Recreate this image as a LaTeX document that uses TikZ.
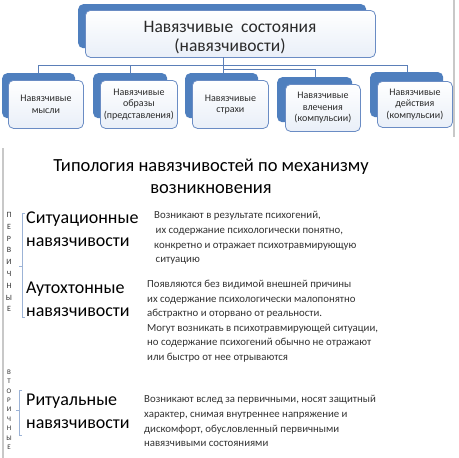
\documentclass[tikz,border=0pt]{standalone}
\usepackage{fontspec}
\setmainfont{Carlito}
\definecolor{bk}{HTML}{4F7FBE}
\definecolor{fr}{HTML}{6A8CC4}
\definecolor{frfill}{HTML}{E9EFF8}
\definecolor{ln}{HTML}{5B7FB8}
\definecolor{txt}{HTML}{2A2A2A}
\definecolor{dtxt}{HTML}{333333}
\definecolor{brk}{HTML}{9CB3D6}
\definecolor{edge}{HTML}{C8C8C8}
\tikzset{
  back/.style={fill=bk, rounded corners=5pt, inner sep=0pt, anchor=north west},
  front/.style={draw=fr, line width=0.8pt, top color=white, bottom color=frfill, rounded corners=5pt,
    inner sep=0pt, anchor=north west, align=center, text=txt},
  small/.style={font=\fontsize{10}{11.5}\selectfont},
  conn/.style={draw=ln, line width=0.9pt},
  head/.style={anchor=west, align=left, text=black, font=\fontsize{18}{23}\selectfont, inner sep=0pt},
  desc/.style={anchor=north west, align=left, text=dtxt, font=\fontsize{10.8}{14.6}\selectfont, inner sep=0pt},
  vlet/.style={text=dtxt, inner sep=0pt},
  brack/.style={draw=brk, line width=0.8pt},
}
\begin{document}
\begin{tikzpicture}[x=1pt,y=-1pt]
\useasboundingbox (0,0) rectangle (459,458);
\fill[white] (0,0) rectangle (459,458);
% page edges
\draw[edge, line width=1.5pt] (454,0) -- (454,137);
\draw[edge, line width=1.5pt] (3,148) -- (3,458);
% main box
\node[back, minimum width=288pt, minimum height=44pt] (mainback) at (78,4) {};
\node[front, minimum width=290pt, minimum height=47pt] (main) at (85,10) {};
\node[align=center, text=txt, inner sep=0pt, font=\fontsize{17.5}{19}\selectfont] (maintext) at (230,37.5) {Навязчивые\ \ состояния\\(навязчивости)};
% child boxes
\node[back, minimum width=73pt, minimum height=45pt] (b1back) at (2,73) {};
\node[front, small, minimum width=75pt, minimum height=48pt] (b1) at (8,80) {Навязчивые\\мысли};
\node[back, minimum width=74pt, minimum height=45pt] (b2back) at (93,73) {};
\node[front, small, minimum width=77pt, minimum height=48pt] (b2) at (100,80) {Навязчивые\\образы\\(представления)};
\node[back, minimum width=73pt, minimum height=45pt] (b3back) at (185,73) {};
\node[front, small, minimum width=76pt, minimum height=48pt] (b3) at (192,80) {Навязчивые\\страхи};
\node[back, minimum width=75pt, minimum height=45pt] (b4back) at (277,77) {};
\node[front, small, minimum width=75pt, minimum height=47pt] (b4) at (285,84) {Навязчивые\\влечения\\(компульсии)};
\node[back, minimum width=73pt, minimum height=45pt] (b5back) at (370,72) {};
\node[front, small, minimum width=75pt, minimum height=46pt] (b5) at (377,81) {Навязчивые\\действия\\(компульсии)};
% connectors
\coordinate (trunk) at (223,57);
\coordinate (j1) at (223,65);
\coordinate (j2) at (223,69);
\coordinate (h1) at (38,65);
\coordinate (h2) at (130,65);
\coordinate (h5) at (407,65);
\coordinate (h4) at (315,69);
\draw[conn] (trunk) -- (b3back.north -| trunk);
\draw[conn] (h1) -- (h5);
\draw[conn] (h1) -- (b1back.north -| h1);
\draw[conn] (h2) -- (b2back.north -| h2);
\draw[conn] (h5) -- (b5back.north -| h5);
\draw[conn] (j2) -- (h4) -- (b4back.north -| h4);
% title
\node[align=center, text=black, font=\fontsize{18.5}{22}\selectfont, inner sep=0pt] (title) at (211,176) {Типология навязчивостей по механизму\\возникновения};
% headings
\node[head] (s1) at (26,229) {Ситуационные\\навязчивости};
\node[head] (s2) at (26,299.5) {Аутохтонные\\навязчивости};
\node[head] (s3) at (26,411) {Ритуальные\\навязчивости};
% descriptions
\node[desc] (d1) at (154,211.5) {Возникают в результате психогений,\\\hspace{1.5pt}их содержание психологически понятно,\\конкретно и отражает психотравмирующую\\\hspace{1.5pt}ситуацию};
\node[desc] (d2) at (147,280) {Появляются без видимой внешней причины\\их содержание психологически малопонятно\\абстрактно и оторвано от реальности.\\Могут возникать в психотравмирующей ситуации,\\но содержание психогений обычно не отражают\\или быстро от нее отрываются};
\node[desc] (d3) at (144,395.5) {Возникают вслед за первичными, носят защитный\\характер, снимая внутреннее напряжение и\\дискомфорт, обусловленный первичными\\навязчивыми состояниями};
% vertical letters
\foreach \l [count=\i] in {П,Е,Р,В,И,Ч,Н,Ы,Е}
  \node[vlet, font=\fontsize{8}{8}\selectfont] (p\i) at (9,{215+(\i-1)*11.8}) {\l};
\foreach \l [count=\i] in {В,Т,О,Р,И,Ч,Н,Ы,Е}
  \node[vlet, font=\fontsize{7}{7}\selectfont] (v\i) at (9,{372+(\i-1)*9.4}) {\l};
% brackets
\coordinate (k1t) at (22,213);
\coordinate (k1b) at (22,317);
\coordinate (k1m) at (22,266);
\draw[brack] ([xshift=3pt]k1t) -- (k1t) -- (k1b) -- ([xshift=3pt]k1b);
\draw[brack] (k1m) -- ([xshift=-3pt]k1m);
\coordinate (k2t) at (19,390);
\coordinate (k2b) at (19,435);
\coordinate (k2m) at (19,410);
\draw[brack] ([xshift=3pt]k2t) -- (k2t) -- (k2b) -- ([xshift=3pt]k2b);
\draw[brack] (k2m) -- ([xshift=-3pt]k2m);
\end{tikzpicture}
\end{document}
